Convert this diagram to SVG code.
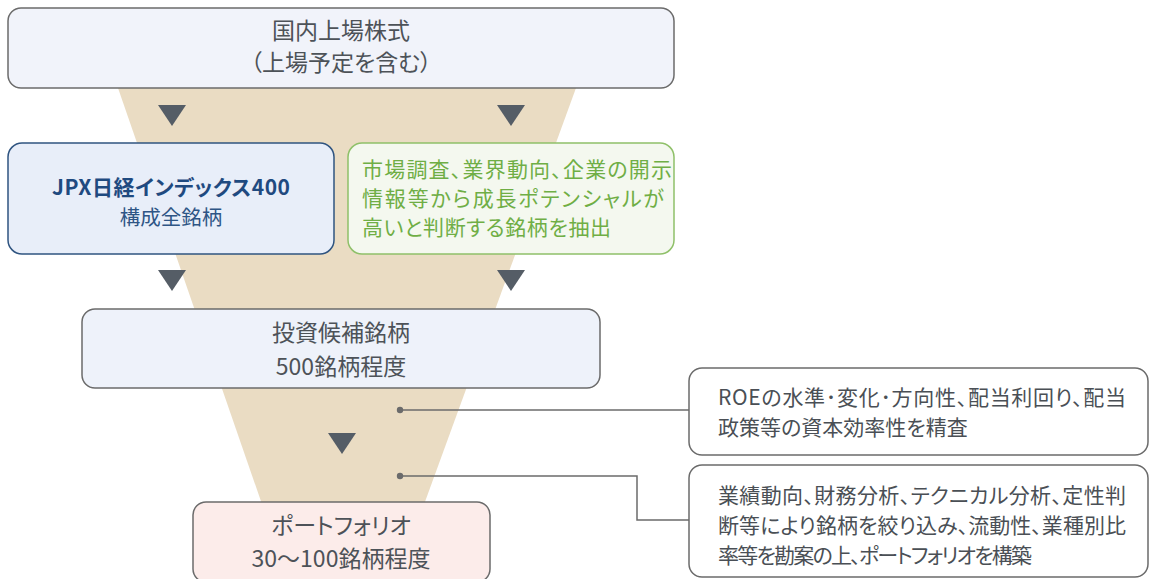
<svg xmlns="http://www.w3.org/2000/svg" width="1150" height="579" viewBox="0 0 1150 579">
<defs>
<style>
text{font-family:"Noto Sans CJK JP","Noto Sans",sans-serif;font-feature-settings:"palt";}
.c{text-anchor:middle;font-size:23px;fill:#4d5258;}
.s{font-size:21px;fill:#4a4f55;}
.g{font-size:21px;fill:#6fae45;}
.box{stroke:#6b6b6b;stroke-width:1.5;}
.tri{fill:#555d66;}
.ln{stroke:#6b6b6b;stroke-width:1.5;fill:none;}
</style>
</defs>
<rect width="1150" height="579" fill="#ffffff"/>
<polygon points="118,88 576,88 422,510 264,510" fill="#eadcc3"/>
<g id="arrows">
<polygon class="tri" points="158,105 186,105 172,126"/>
<polygon class="tri" points="497,105 525,105 511,126"/>
<polygon class="tri" points="158,270 186,270 172,291"/>
<polygon class="tri" points="497,270 525,270 511,291"/>
<polygon class="tri" points="328,433 356,433 342,454"/>
</g>
<g id="connectors">
<path class="ln" d="M400,410 H689"/>
<path class="ln" d="M400,476 H637 V520 H689"/>
<circle cx="400" cy="410" r="3.2" fill="#6b6b6b"/>
<circle cx="400" cy="476" r="3.2" fill="#6b6b6b"/>
</g>
<g id="node-top">
<rect class="box" x="8" y="8" width="666" height="80" rx="13" fill="#f1f3fa"/>
<text class="c" x="341" y="39">国内上場株式</text>
<text class="c" x="341" y="71">（上場予定を含む）</text>
</g>
<g id="node-jpx">
<rect x="8" y="143" width="326" height="111" rx="14" fill="#e8eef9" stroke="#2f5480" stroke-width="1.5"/>
<text x="171" y="195" text-anchor="middle" font-size="21" font-weight="bold" fill="#1f4a80" textLength="238">JPX日経インデックス400</text>
<text x="171" y="225" text-anchor="middle" font-size="20.5" fill="#2e5585">構成全銘柄</text>
</g>
<g id="node-growth">
<rect x="348" y="143" width="326" height="111" rx="14" fill="#f4f8ef" stroke="#8fc069" stroke-width="1.5"/>
<text class="g" x="362" y="177" textLength="310">市場調査、業界動向、企業の開示</text>
<text class="g" x="362" y="206" textLength="302">情報等から成長ポテンシャルが</text>
<text class="g" x="362" y="235" textLength="249">高いと判断する銘柄を抽出</text>
</g>
<g id="node-candidates">
<rect class="box" x="82" y="309" width="518" height="79" rx="13" fill="#eef2fa"/>
<text class="c" x="341" y="341">投資候補銘柄</text>
<text class="c" x="341" y="375">500銘柄程度</text>
</g>
<g id="node-portfolio">
<rect class="box" x="193" y="502" width="297" height="80" rx="13" fill="#fcecea"/>
<text class="c" x="341" y="534">ポートフォリオ</text>
<text class="c" x="341" y="567">30～100銘柄程度</text>
</g>
<g id="note-roe">
<rect class="box" x="689" y="368" width="459" height="87" rx="13" fill="#ffffff"/>
<text class="s" x="718" y="405" textLength="408">ROEの水準･変化･方向性、配当利回り、配当</text>
<text class="s" x="718" y="435">政策等の資本効率性を精査</text>
</g>
<g id="note-build">
<rect class="box" x="689" y="465" width="459" height="112" rx="13" fill="#ffffff"/>
<text class="s" x="718" y="503" textLength="408">業績動向、財務分析、テクニカル分析、定性判</text>
<text class="s" x="718" y="533" textLength="408">断等により銘柄を絞り込み、流動性、業種別比</text>
<text class="s" x="718" y="563" textLength="314">率等を勘案の上、ポートフォリオを構築</text>
</g>
</svg>
